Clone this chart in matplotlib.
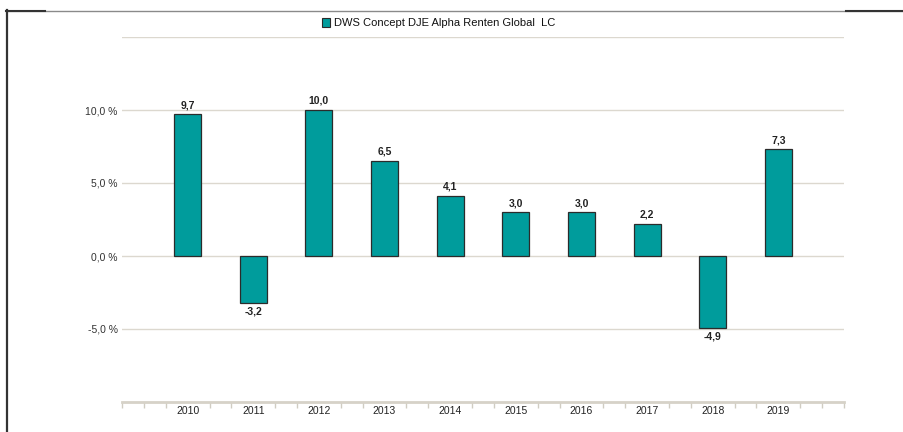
import matplotlib
matplotlib.use("Agg")
import matplotlib.pyplot as plt
from matplotlib.lines import Line2D
from matplotlib.patches import Rectangle
import numpy as np

plt.rcParams['font.family'] = ['Liberation Sans', 'DejaVu Sans']

years = ['2010', '2011', '2012', '2013', '2014', '2015', '2016', '2017', '2018', '2019']
values = [9.7, -3.2, 10.0, 6.5, 4.1, 3.0, 3.0, 2.2, -4.9, 7.3]
series_name = 'DWS Concept DJE Alpha Renten Global  LC'
ytick_vals = [-5, 0, 5, 10]
grid_vals = [-5, 0, 5, 10, 15]

bar_color = '#009c9c'
edge_color = '#2b2b2b'
grid_color = '#dcd8cf'

fig = plt.figure(figsize=(9.04, 4.32), dpi=100)
ax = fig.add_axes([122/904, 1-402/432, (844-122)/904, (402-37)/432])

x = np.arange(len(years))
ax.bar(x, values, width=0.41, color=bar_color, edgecolor=edge_color, linewidth=0.9, zorder=3)

ax.set_xlim(-1, len(years))
ax.set_ylim(-10, 15)

for g in grid_vals:
    ax.axhline(g, color=grid_color, linewidth=1.0, zorder=1)

ax.set_yticks(ytick_vals)
ax.set_yticklabels([f"{v:.1f}".replace('.', ',') + ' %' for v in ytick_vals], fontsize=7.5, color='#333333')
ax.tick_params(axis='y', length=0, pad=3)

ax.set_xticks(x)
ax.set_xticklabels(years, fontsize=7.5, color='#222222')
minor = [k/3 for k in range(-3, 3*len(years)+1) if k % 3 != 0] + [-1, len(years)]
ax.set_xticks(minor, minor=True)
ax.tick_params(axis='x', which='major', length=0, pad=3)
ax.tick_params(axis='x', which='minor', length=4, color='#d0ccc2', width=1, direction='out')

for s in ['top', 'right', 'left']:
    ax.spines[s].set_visible(False)
ax.spines['bottom'].set_color('#d6d2c8')
ax.spines['bottom'].set_linewidth(2)

for xi, v in zip(x, values):
    lab = f"{v:.1f}".replace('.', ',')
    if v >= 0:
        ax.annotate(lab, (xi, v), xytext=(0, 3), textcoords='offset points',
                    ha='center', va='bottom', fontsize=7.5, fontweight='bold', color='#222222')
    else:
        ax.annotate(lab, (xi, v), xytext=(0, -3), textcoords='offset points',
                    ha='center', va='top', fontsize=7.5, fontweight='bold', color='#222222')

# legend
fig.patches.append(Rectangle((322/904, 1-27/432), 8/904, 9/432, transform=fig.transFigure,
                             facecolor=bar_color, edgecolor=edge_color, linewidth=0.8))
fig.text(334/904, 1-22.5/432, series_name, fontsize=8, va='center', ha='left', color='#111111')

# frame lines
fig.add_artist(Line2D([6/904, 1], [1-10.5/432, 1-10.5/432], transform=fig.transFigure, color='#8a8a8a', linewidth=1))
fig.add_artist(Line2D([6/904, 45/904], [1-11/432, 1-11/432], transform=fig.transFigure, color='#333333', linewidth=1.5))
fig.add_artist(Line2D([846/904, 1], [1-11/432, 1-11/432], transform=fig.transFigure, color='#333333', linewidth=1.5))
fig.add_artist(Line2D([7/904, 7/904], [0, 1-10/432], transform=fig.transFigure, color='#333333', linewidth=1.6))

fig.savefig('out.png', dpi=100)
